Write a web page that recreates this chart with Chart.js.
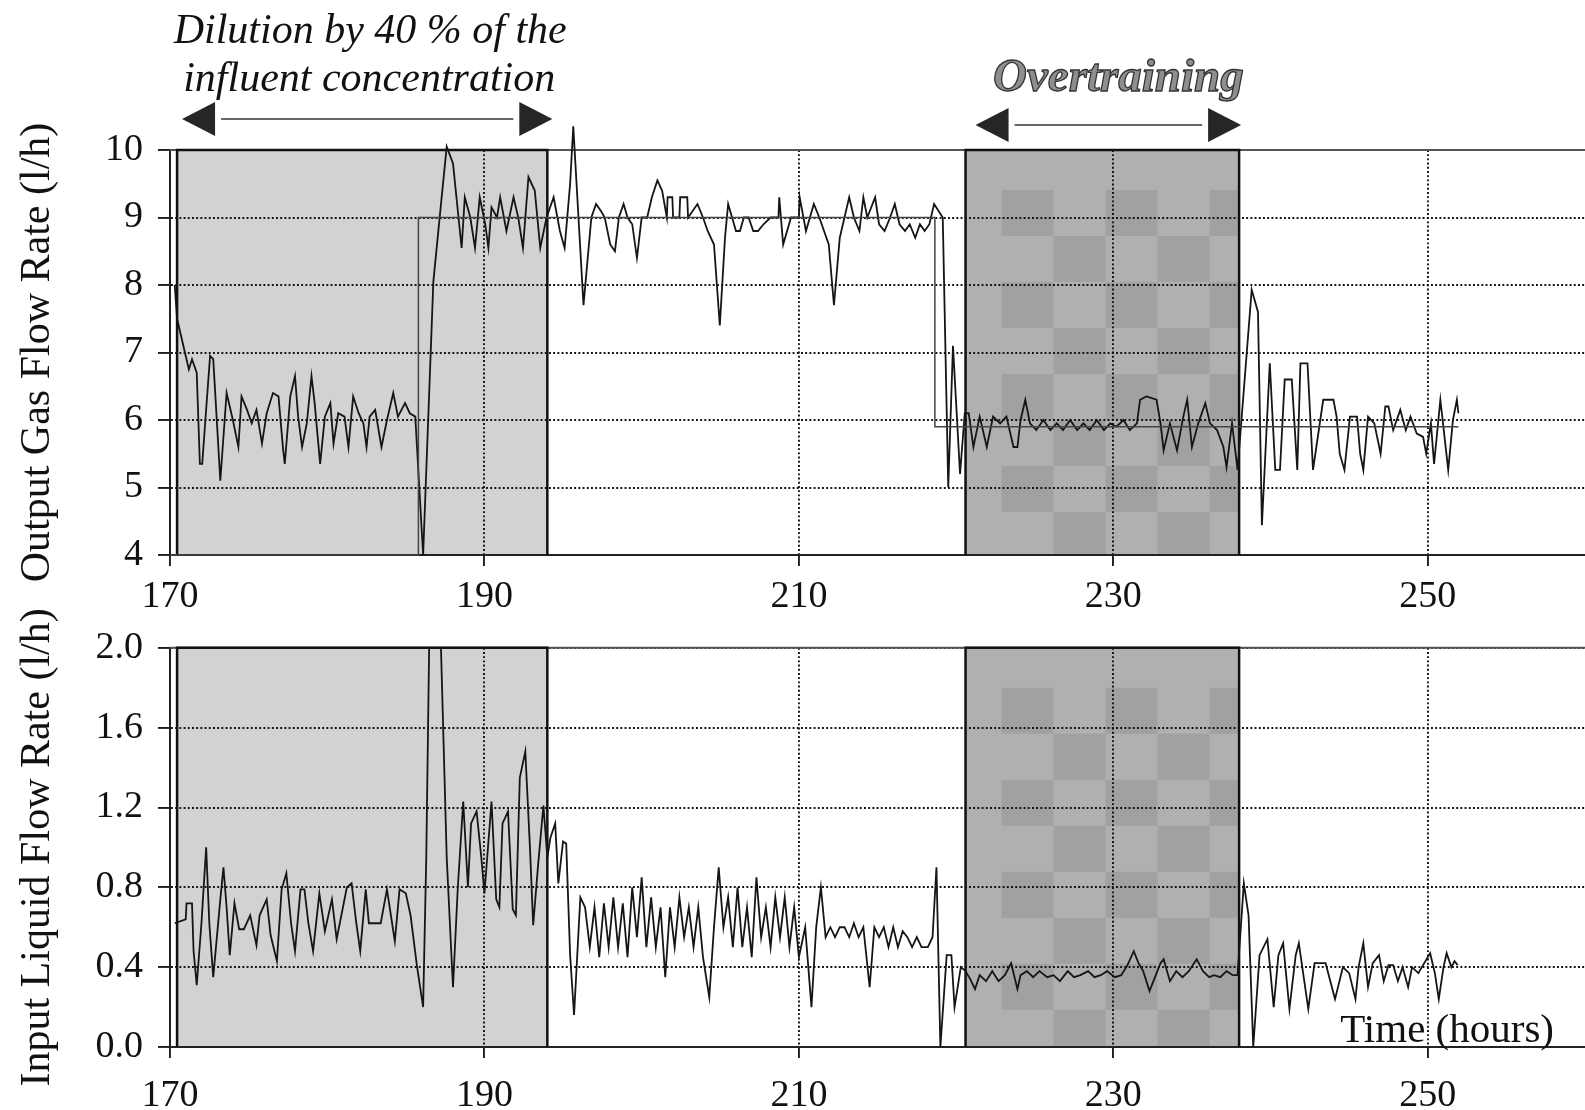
<!DOCTYPE html>
<html>
<head>
<meta charset="utf-8">
<script src="https://cdn.jsdelivr.net/npm/chart.js@4.4.0/dist/chart.umd.min.js"></script>
<style>
  html, body { margin: 0; padding: 0; background: #fff; }
  #wrap { position: relative; width: 1585px; height: 1110px; overflow: hidden; }
  canvas { position: absolute; left: 0; }
  #gasChart { top: 0; }
  #liquidChart { top: 610px; }
</style>
</head>
<body>
<div id="wrap">
  <canvas id="gasChart" width="1585" height="610"></canvas>
  <canvas id="liquidChart" width="1585" height="500"></canvas>
</div>
<script>
// time axis (hours) and the two shaded test periods
const xMin = 170, xMax = 260;
const timeTicks = [170, 190, 210, 230, 250];
const dilution = [170.45, 194.0];
const overtraining = [220.6, 238.0];

// output gas flow rate (l/h)
const gasHours = [
  170.3, 170.45, 171.05, 171.2, 171.4, 171.7, 171.9, 172.05, 172.25, 172.55, 172.75, 173.2, 173.6, 174.0, 174.35,
  174.55, 174.9, 175.2, 175.5, 175.85, 176.15, 176.55, 176.9, 177.2, 177.3, 177.65, 177.95, 178.15, 178.4, 178.7,
  179.0, 179.2, 179.55, 179.85, 180.2, 180.4, 180.7, 181.1, 181.35, 181.65, 182.0, 182.3, 182.5, 182.7, 183.05,
  183.45, 183.8, 184.2, 184.5, 184.95, 185.25, 185.6, 186.1, 186.75, 187.3, 187.6, 188.0, 188.35, 188.55, 188.75,
  189.1, 189.4, 189.7, 190.05, 190.25, 190.45, 190.8, 191.0, 191.4, 191.85, 192.15, 192.45, 192.8, 193.2, 193.55,
  193.95, 194.4, 194.8, 195.1, 195.45, 195.65, 196.3, 196.8, 197.1, 197.4, 197.65, 198.0, 198.3, 198.55, 198.85,
  199.1, 199.4, 199.7, 200.0, 200.35, 200.65, 201.0, 201.3, 201.6, 201.65, 201.95, 202.0, 202.4, 202.45, 202.9,
  202.95, 203.55, 203.9, 204.2, 204.6, 204.97, 205.3, 205.5, 205.75, 206.0, 206.25, 206.5, 206.8, 207.1, 207.4,
  207.75, 208.2, 208.7, 208.75, 209.0, 209.5, 210.0, 210.05, 210.45, 210.95, 211.3, 211.6, 211.9, 212.23, 212.6,
  212.9, 213.2, 213.5, 213.85, 214.1, 214.35, 214.85, 215.1, 215.45, 215.8, 216.1, 216.4, 216.75, 217.05, 217.4,
  217.7, 218.0, 218.3, 218.6, 219.15, 219.5, 219.8, 220.25, 220.55, 220.8, 221.1, 221.5, 221.95, 222.35, 222.8,
  223.2, 223.65, 223.9, 224.1, 224.4, 224.7, 225.1, 225.55, 226.0, 226.4, 226.8, 227.25, 227.7, 228.1, 228.5,
  228.95, 229.4, 229.8, 230.2, 230.65, 231.05, 231.5, 231.7, 232.1, 232.75, 233.0, 233.2, 233.6, 234.05, 234.45,
  234.7, 235.0, 235.4, 235.85, 236.15, 236.6, 237.0, 237.2, 237.55, 237.9, 238.8, 239.2, 239.45, 239.95, 240.3,
  240.6, 240.9, 241.35, 241.7, 241.9, 242.35, 242.7, 243.35, 244.0, 244.2, 244.4, 244.7, 245.05, 245.5, 245.7,
  245.9, 246.2, 246.6, 247.0, 247.3, 247.5, 247.8, 248.25, 248.6, 248.9, 249.3, 249.7, 249.9, 250.2, 250.4,
  250.8, 251.3, 251.6, 251.85, 251.95
];
const gasFlow = [
  8.0, 7.5, 6.9, 6.75, 6.9, 6.7, 5.35, 5.35, 6.0, 6.95, 6.9, 5.1, 6.4, 6.0, 5.6,
  6.35, 6.15, 5.95, 6.15, 5.65, 6.1, 6.4, 6.35, 5.55, 5.35, 6.35, 6.65, 6.05, 5.6, 5.95,
  6.65, 6.25, 5.35, 6.05, 6.25, 5.65, 6.1, 6.05, 5.6, 6.35, 6.1, 5.95, 5.6, 6.05, 6.15,
  5.6, 6.0, 6.4, 6.05, 6.25, 6.1, 6.05, 4.0, 8.05, 9.35, 10.05, 9.8, 9.0, 8.55, 9.3,
  9.0, 8.55, 9.3, 8.9, 8.55, 9.15, 9.0, 9.3, 8.8, 9.3, 9.0, 8.55, 9.6, 9.4, 8.55,
  9.0, 9.3, 8.8, 8.55, 9.5, 10.35, 7.7, 9.0, 9.2, 9.1, 9.0, 8.6, 8.5, 9.0, 9.2,
  9.0, 8.9, 8.4, 9.0, 9.0, 9.3, 9.55, 9.4, 9.0, 9.3, 9.3, 9.0, 9.0, 9.3, 9.3,
  9.0, 9.2, 9.0, 8.8, 8.6, 7.4, 8.7, 9.2, 9.0, 8.8, 8.8, 9.0, 9.0, 8.8, 8.8,
  8.9, 9.0, 9.0, 9.3, 8.6, 9.0, 9.0, 9.3, 8.8, 9.2, 9.0, 8.8, 8.6, 7.7, 8.7,
  9.0, 9.3, 9.0, 8.8, 9.3, 9.0, 9.3, 8.9, 8.8, 9.0, 9.2, 8.9, 8.8, 8.9, 8.7,
  8.9, 8.8, 8.9, 9.2, 9.0, 5.0, 7.1, 5.2, 6.1, 6.1, 5.6, 6.05, 5.6, 6.05, 5.95,
  6.05, 5.6, 5.6, 6.0, 6.3, 5.95, 5.85, 6.0, 5.85, 5.95, 5.85, 6.0, 5.85, 5.95, 5.85,
  6.0, 5.85, 5.95, 5.9, 6.0, 5.85, 5.95, 6.3, 6.35, 6.3, 5.95, 5.55, 5.95, 5.55, 6.05,
  6.3, 5.6, 5.95, 6.25, 5.95, 5.85, 5.6, 5.3, 5.95, 5.26, 7.93, 7.6, 4.44, 6.84, 5.26,
  5.26, 6.6, 6.6, 5.26, 6.84, 6.84, 5.26, 6.3, 6.3, 6.05, 5.5, 5.26, 6.05, 6.05, 5.5,
  5.26, 6.05, 5.95, 5.5, 6.2, 6.2, 5.85, 6.15, 5.85, 6.05, 5.8, 5.75, 5.5, 5.95, 5.35,
  6.3, 5.26, 6.0, 6.3, 6.1
];

// gas flow set level (step line)
const setHours = [170.0, 185.8, 185.8, 218.65, 218.65, 251.95];
const setGas = [4, 4, 9, 9, 5.9, 5.9];

// input liquid flow rate (l/h)
const liquidHours = [
  170.3, 171.0, 171.05, 171.4, 171.5, 171.7, 172.0, 172.3, 172.5, 172.75, 173.2, 173.4, 173.6, 173.8, 174.1,
  174.4, 174.7, 175.1, 175.5, 175.7, 176.15, 176.4, 176.8, 177.1, 177.4, 177.7, 177.95, 178.3, 178.55, 178.8,
  179.1, 179.5, 179.85, 180.3, 180.6, 180.9, 181.25, 181.55, 181.85, 182.1, 182.45, 182.65, 183.4, 183.8, 184.3,
  184.6, 185.0, 185.3, 185.7, 186.1, 186.3, 186.5, 187.2, 187.6, 187.9, 188.0, 188.3, 188.65, 188.95, 189.15,
  189.5, 189.8, 190.0, 190.45, 190.75, 190.95, 191.15, 191.5, 191.8, 192.0, 192.25, 192.6, 192.9, 193.1, 193.4,
  193.75, 194.0, 194.2, 194.5, 194.7, 195.0, 195.2, 195.45, 195.7, 196.1, 196.4, 196.7, 197.0, 197.3, 197.6,
  197.9, 198.2, 198.5, 198.8, 199.1, 199.4, 199.7, 200.0, 200.3, 200.6, 200.9, 201.2, 201.5, 201.8, 202.1,
  202.4, 202.7, 203.0, 203.3, 203.6, 203.9, 204.3, 204.6, 204.9, 205.2, 205.5, 205.8, 206.1, 206.4, 206.7,
  207.0, 207.3, 207.6, 207.9, 208.2, 208.5, 208.8, 209.1, 209.4, 209.7, 210.0, 210.4, 210.8, 211.1, 211.4,
  211.7, 212.0, 212.3, 212.6, 212.9, 213.2, 213.5, 213.8, 214.1, 214.5, 214.8, 215.1, 215.4, 215.7, 216.0,
  216.3, 216.6, 216.9, 217.2, 217.5, 217.8, 218.2, 218.5, 218.75, 219.0, 219.4, 219.7, 219.9, 220.3, 220.6,
  220.9, 221.2, 221.5, 221.9, 222.3, 222.7, 223.1, 223.5, 223.9, 224.1, 224.5, 224.9, 225.3, 225.8, 226.2,
  226.6, 227.1, 227.5, 227.9, 228.4, 228.8, 229.2, 229.6, 230.1, 230.5, 230.9, 231.3, 231.6, 231.9, 232.3,
  232.7, 233.0, 233.2, 233.6, 234.0, 234.4, 234.8, 235.3, 235.7, 236.1, 236.4, 236.8, 237.2, 237.6, 237.9,
  238.3, 238.6, 238.9, 239.3, 239.8, 240.2, 240.5, 240.8, 241.2, 241.6, 241.8, 242.4, 242.8, 243.5, 244.1,
  244.6, 245.0, 245.4, 245.6, 245.9, 246.2, 246.5, 246.9, 247.2, 247.5, 247.8, 248.1, 248.4, 248.75, 249.0,
  249.4, 249.7, 250.15, 250.45, 250.7, 251.0, 251.2, 251.5, 251.7, 251.9
];
const liquidFlow = [
  0.62, 0.64, 0.72, 0.72, 0.48, 0.31, 0.62, 1.0, 0.62, 0.35, 0.74, 0.9, 0.7, 0.46, 0.72,
  0.59, 0.59, 0.66, 0.51, 0.66, 0.74, 0.56, 0.43, 0.79, 0.87, 0.62, 0.48, 0.79, 0.79, 0.62,
  0.48, 0.77, 0.58, 0.74, 0.54, 0.66, 0.8, 0.82, 0.62, 0.48, 0.79, 0.62, 0.62, 0.79, 0.53,
  0.79, 0.77, 0.66, 0.41, 0.2, 0.95, 2.1, 2.1, 0.95, 0.46, 0.3, 0.79, 1.23, 0.8, 1.12,
  1.18, 0.95, 0.77, 1.23, 0.74, 0.7, 1.12, 1.18, 0.69, 0.66, 1.35, 1.48, 0.99, 0.61, 0.9,
  1.21, 0.95, 1.05, 1.12, 0.82, 1.03, 1.02, 0.46, 0.16, 0.75, 0.7, 0.5, 0.7, 0.45, 0.72,
  0.5, 0.75, 0.5, 0.72, 0.45, 0.8, 0.55, 0.85, 0.5, 0.75, 0.5, 0.7, 0.35, 0.7, 0.5,
  0.75, 0.55, 0.7, 0.5, 0.7, 0.45, 0.25, 0.6, 0.9, 0.6, 0.75, 0.5, 0.8, 0.5, 0.7,
  0.45, 0.85, 0.55, 0.7, 0.5, 0.75, 0.55, 0.75, 0.5, 0.7, 0.45, 0.6, 0.2, 0.6, 0.8,
  0.55, 0.6, 0.55, 0.6, 0.6, 0.55, 0.62, 0.55, 0.6, 0.3, 0.6, 0.55, 0.6, 0.5, 0.6,
  0.5, 0.58, 0.55, 0.5, 0.55, 0.5, 0.5, 0.55, 0.9, 0.0, 0.46, 0.46, 0.2, 0.4, 0.38,
  0.34, 0.29, 0.36, 0.33, 0.38, 0.33, 0.36, 0.42, 0.29, 0.36, 0.38, 0.35, 0.38, 0.35, 0.36,
  0.33, 0.38, 0.35, 0.36, 0.38, 0.35, 0.36, 0.38, 0.35, 0.36, 0.41, 0.48, 0.42, 0.38, 0.28,
  0.36, 0.42, 0.44, 0.33, 0.38, 0.35, 0.38, 0.44, 0.38, 0.35, 0.36, 0.35, 0.38, 0.36, 0.36,
  0.82, 0.66, 0.0, 0.46, 0.54, 0.2, 0.46, 0.52, 0.19, 0.46, 0.52, 0.19, 0.42, 0.42, 0.24,
  0.4, 0.37, 0.24, 0.4, 0.52, 0.3, 0.42, 0.46, 0.33, 0.41, 0.41, 0.33, 0.4, 0.3, 0.4,
  0.37, 0.41, 0.47, 0.37, 0.24, 0.4, 0.47, 0.4, 0.43, 0.41
];

const gasTicks = [4, 5, 6, 7, 8, 9, 10];
const liquidTicks = [0.0, 0.4, 0.8, 1.2, 1.6, 2.0];

const pairs = (xs, ys) => xs.map((x, i) => ({ x: x, y: ys[i] }));

Chart.defaults.font.family = '"Liberation Serif", "Times New Roman", serif';
Chart.defaults.color = '#111';

// grey blocks behind the grid, dark outlines on top of it
const periodShading = {
  id: 'periodShading',
  beforeDraw(chart) {
    const { ctx, chartArea: a, scales: { x } } = chart;
    ctx.save();
    ctx.fillStyle = '#fff';
    ctx.fillRect(0, 0, chart.width, chart.height);

    let l = x.getPixelForValue(dilution[0]);
    let r = x.getPixelForValue(dilution[1]);
    ctx.fillStyle = '#d2d2d2';
    ctx.fillRect(l, a.top, r - l, a.bottom - a.top);

    l = x.getPixelForValue(overtraining[0]);
    r = x.getPixelForValue(overtraining[1]);
    ctx.fillStyle = '#b0b0b0';
    ctx.fillRect(l, a.top, r - l, a.bottom - a.top);
    // blotchy checker inside the overtraining block
    const cw = 52, ch = 46;
    ctx.fillStyle = '#a1a1a1';
    for (let cx = l + 36, i = 0; cx < r; cx += cw, i++) {
      for (let cy = a.top + 40, j = 0; cy < a.bottom; cy += ch, j++) {
        if ((i + j) % 2 === 0) {
          ctx.fillRect(cx, cy, Math.min(cw, r - cx), Math.min(ch, a.bottom - cy));
        }
      }
    }
    ctx.restore();
  },
  beforeDatasetsDraw(chart) {
    const { ctx, chartArea: a, scales: { x } } = chart;
    ctx.save();
    // solid top frame line
    ctx.strokeStyle = '#555';
    ctx.lineWidth = 2;
    ctx.beginPath();
    ctx.moveTo(a.left, a.top);
    ctx.lineTo(a.right, a.top);
    ctx.stroke();

    ctx.strokeStyle = '#111';
    ctx.lineWidth = 2.5;
    [dilution, overtraining].forEach(p => {
      const l = x.getPixelForValue(p[0]);
      const r = x.getPixelForValue(p[1]);
      ctx.beginPath();
      ctx.moveTo(l, a.bottom);
      ctx.lineTo(l, a.top);
      ctx.lineTo(r, a.top);
      ctx.lineTo(r, a.bottom);
      ctx.stroke();
    });
    ctx.restore();
  }
};

function doubleArrow(ctx, x1, x2, y) {
  const hl = 33, hh = 17;
  ctx.strokeStyle = '#333';
  ctx.lineWidth = 1.5;
  ctx.beginPath();
  ctx.moveTo(x1 + hl + 6, y);
  ctx.lineTo(x2 - hl - 6, y);
  ctx.stroke();
  ctx.fillStyle = '#262626';
  ctx.beginPath();
  ctx.moveTo(x1, y);
  ctx.lineTo(x1 + hl, y - hh);
  ctx.lineTo(x1 + hl, y + hh);
  ctx.closePath();
  ctx.fill();
  ctx.beginPath();
  ctx.moveTo(x2, y);
  ctx.lineTo(x2 - hl, y - hh);
  ctx.lineTo(x2 - hl, y + hh);
  ctx.closePath();
  ctx.fill();
}

// captions and arrows above the two periods
const periodCaptions = {
  id: 'periodCaptions',
  afterDraw(chart) {
    const { ctx, scales: { x } } = chart;
    const dl = x.getPixelForValue(dilution[0]);
    const dr = x.getPixelForValue(dilution[1]);
    const ol = x.getPixelForValue(overtraining[0]);
    const or = x.getPixelForValue(overtraining[1]);
    ctx.save();
    ctx.textAlign = 'center';
    ctx.textBaseline = 'alphabetic';
    ctx.fillStyle = '#111';
    ctx.font = 'italic 42px "Liberation Serif"';
    ctx.fillText('Dilution by 40 % of the', (dl + dr) / 2 + 8, 43);
    ctx.fillText('influent concentration', (dl + dr) / 2 + 7, 91);
    doubleArrow(ctx, dl + 5, dr + 5, 119);

    ctx.font = 'italic bold 47px "Liberation Serif"';
    ctx.fillStyle = '#8e8e8e';
    ctx.strokeStyle = '#333';
    ctx.lineWidth = 1.3;
    ctx.fillText('Overtraining', (ol + or) / 2 + 16, 91);
    ctx.strokeText('Overtraining', (ol + or) / 2 + 16, 91);
    doubleArrow(ctx, ol + 10, or + 2, 125);
    ctx.restore();
  }
};

const timeCaption = {
  id: 'timeCaption',
  afterDraw(chart) {
    const { ctx, chartArea: a } = chart;
    ctx.save();
    ctx.font = '41px "Liberation Serif"';
    ctx.fillStyle = '#111';
    ctx.textAlign = 'right';
    ctx.textBaseline = 'alphabetic';
    ctx.fillText('Time (hours)', a.right - 31, a.bottom - 5);
    ctx.restore();
  }
};

function timeAxis(labelPad, height) {
  return {
    type: 'linear',
    min: xMin,
    max: xMax,
    afterFit: s => { s.height = height; },
    afterBuildTicks: s => { s.ticks = timeTicks.map(v => ({ value: v })); },
    ticks: { padding: labelPad, font: { size: 38 }, color: '#111', maxRotation: 0, autoSkip: false },
    grid: { color: '#111', lineWidth: 1.9, tickLength: 11, tickColor: '#111', tickWidth: 1.8 },
    border: { display: true, color: '#222', width: 2, dash: [1.9, 2.3] }
  };
}

function flowAxis(min, max, ticks, title, fmt) {
  return {
    type: 'linear',
    min: min,
    max: max,
    afterFit: s => { s.width = 170; },
    afterBuildTicks: s => { s.ticks = ticks.map(v => ({ value: v })); },
    ticks: { padding: 15, font: { size: 38 }, color: '#111', callback: fmt },
    grid: { color: '#111', lineWidth: 1.9, tickLength: 12, tickColor: '#111', tickWidth: 1.8 },
    border: { display: true, color: '#222', width: 2, dash: [1.9, 2.3] },
    title: { display: true, text: title, font: { size: 42, lineHeight: 1 }, color: '#111', padding: { top: 17, bottom: 0 } }
  };
}

const lineStyle = { borderColor: '#151515', borderWidth: 1.8, pointRadius: 0, tension: 0, fill: false };

new Chart(document.getElementById('gasChart'), {
  type: 'line',
  data: {
    datasets: [
      Object.assign({ label: 'Set level', data: pairs(setHours, setGas), clip: false }, lineStyle,
        { borderColor: '#444', borderWidth: 1.5 }),
      Object.assign({ label: 'Output gas flow', data: pairs(gasHours, gasFlow), clip: false }, lineStyle)
    ]
  },
  options: {
    responsive: false,
    animation: false,
    layout: { padding: { top: 150, right: 0, left: 0, bottom: 0 } },
    plugins: { legend: { display: false }, tooltip: { enabled: false } },
    scales: {
      x: timeAxis(8, 55),
      y: flowAxis(4, 10, gasTicks, 'Output Gas Flow Rate (l/h)', v => String(v))
    }
  },
  plugins: [periodShading, periodCaptions]
});

new Chart(document.getElementById('liquidChart'), {
  type: 'line',
  data: {
    datasets: [
      Object.assign({ label: 'Input liquid flow', data: pairs(liquidHours, liquidFlow) }, lineStyle)
    ]
  },
  options: {
    responsive: false,
    animation: false,
    layout: { padding: { top: 30, right: 0, left: 0, bottom: 0 } },
    plugins: { legend: { display: false }, tooltip: { enabled: false } },
    scales: {
      x: timeAxis(15, 63),
      y: flowAxis(0, 2, liquidTicks, 'Input Liquid Flow Rate (l/h)', v => v.toFixed(1))
    }
  },
  plugins: [periodShading, timeCaption]
});
</script>
</body>
</html>
